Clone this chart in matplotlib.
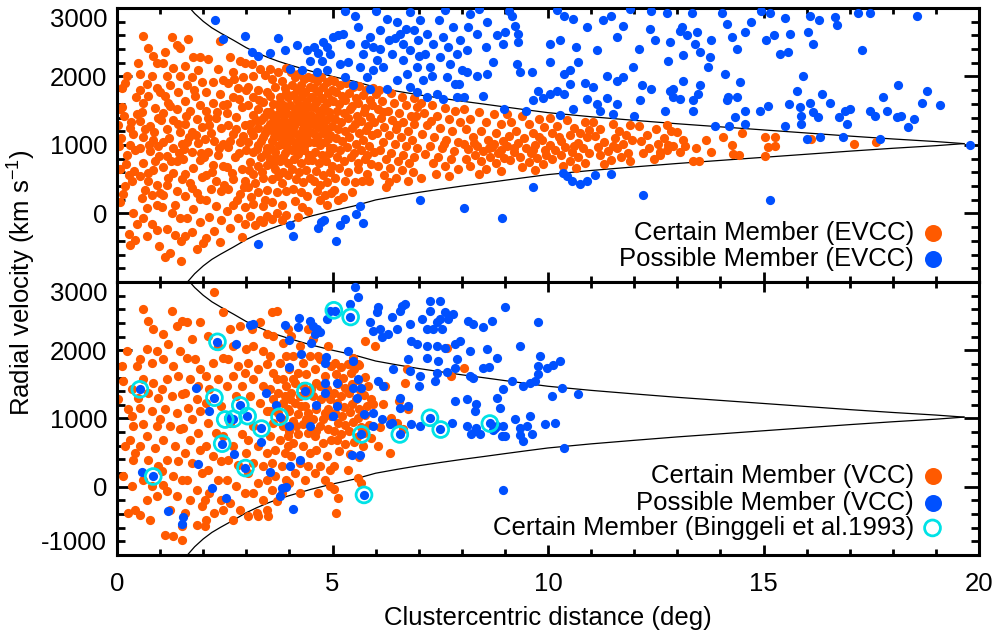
import matplotlib
matplotlib.use("Agg")
import matplotlib.pyplot as plt
from matplotlib.ticker import MultipleLocator

plt.rcParams["font.family"] = ["Liberation Sans", "DejaVu Sans"]
plt.rcParams["mathtext.fontset"] = "custom"
plt.rcParams["mathtext.rm"] = "Liberation Sans"
plt.rcParams["mathtext.it"] = "Liberation Sans:italic"

ORANGE = "#ff5a00"
BLUE = "#0050ff"
CYAN = "#00e2e6"
FS = 18.5

# caustic envelope: half-width (km/s) around the mean cluster velocity vs. radius (deg)
v_mean = 1020
caustic_r = [1.55, 1.65, 1.8, 2.0, 2.2, 2.4, 2.7, 3.0, 3.25, 3.5, 3.75, 4.0, 4.5, 5.0, 5.5,
             6.0, 6.5, 7.0, 7.5, 8.0, 8.5, 9.0, 9.5, 10.0, 11.0, 12.0, 13.0, 14.0, 15.0,
             16.0, 17.0, 18.0, 19.0, 19.65]
caustic_dv = [2110, 2008, 1900, 1785, 1690, 1615, 1510, 1400, 1325, 1258, 1200, 1150, 1058,
              980, 910, 822, 765, 712, 665, 620, 578, 535, 493, 452, 392, 340, 290, 245, 200,
              155, 110, 68, 30, 0]

# EVCC certain members (r [deg], v [km/s])
evcc_certain = [
    (0.02,1290),(0.11,1830),(0.19,1900),(0.23,2010),(0.12,1560),(0.16,1420),(0.31,1250),(0.36,1160),
    (0.09,1100),(0.29,1000),(0.41,930),(0.24,850),(0.08,650),(0.35,480),(0.19,400),(0.07,170),
    (0.36,10),(0.28,-300),(0.42,-380),(0.31,-460),(0.46,-150),(0.44,1700),(0.39,620),(0.14,290),
    (0.05,980),(0.47,1450),(0.21,720),(0.33,1330),(0.06,1520),(0.48,2200),(0.27,560),
    (0.61,2590),(0.73,2410),(0.84,2300),(0.92,2190),(0.80,2010),(0.53,2030),(0.69,1890),(0.92,1830),
    (0.53,1810),(0.73,1720),(1.0,1770),(0.61,1610),(0.88,1540),(0.53,1350),(0.77,1280),(0.96,1400),
    (0.61,1120),(0.84,1080),(0.53,960),(0.77,910),(0.98,840),(0.61,730),(0.84,640),(0.53,540),
    (0.73,480),(0.92,410),(0.57,220),(0.80,270),(0.69,80),(0.92,120),(0.61,-60),(0.80,-150),
    (0.92,-240),(0.69,-330),(0.97,-470),(0.66,1230),(0.86,1190),(0.58,1480),(0.75,1000),(0.95,980),
    (0.71,590),(0.88,760),(0.64,350),(0.99,300),
    (1.27,2570),(1.11,2360),(1.38,2460),(1.46,2410),(1.07,2190),(1.30,2120),(1.15,2000),(1.46,2000),
    (1.23,1870),(1.11,1720),(1.42,1770),(1.19,1620),(1.38,1520),(1.07,1470),(1.30,1360),(1.15,1240),
    (1.46,1190),(1.07,1050),(1.30,960),(1.50,1010),(1.15,840),(1.38,760),(1.07,680),(1.30,590),
    (1.50,500),(1.15,420),(1.38,330),(1.07,270),(1.27,0),(1.46,-70),(1.15,-230),(1.34,-320),
    (1.49,-400),(1.23,-570),(1.48,-700),(1.11,-640),(1.21,1100),(1.41,1300),(1.03,1360),(1.26,770),
    (1.44,880),(1.18,520),(1.34,130),(1.05,90),(1.22,1570),
    (1.65,2540),(1.77,2280),(1.92,2280),(1.58,2150),(1.88,2100),(1.73,1990),(1.62,1870),(1.96,1920),
    (1.81,1720),(1.58,1640),(1.92,1590),(1.70,1500),(1.85,1380),(1.58,1300),(1.96,1260),(1.73,1190),
    (1.62,1050),(1.88,1030),(1.73,900),(1.54,800),(1.92,780),(1.77,660),(1.58,570),(1.96,530),
    (1.73,370),(1.58,260),(1.92,210),(1.77,60),(1.62,-60),(1.92,-130),(1.73,-270),(1.99,-430),
    (1.58,-330),(1.85,-520),(1.67,1120),(1.83,1150),(1.55,940),(1.95,890),(1.69,450),(1.86,300),
    (1.60,1420),(1.79,1810),
    (2.10,2250),(2.34,2110),(2.22,1920),(2.45,1950),(2.06,1770),(2.38,1740),(2.22,1620),(2.45,1580),
    (2.06,1500),(2.30,1390),(2.14,1290),(2.42,1250),(2.03,1090),(2.26,1060),(2.45,1020),(2.10,900),
    (2.34,860),(2.22,710),(2.45,690),(2.06,560),(2.30,480),(2.18,360),(2.42,330),(2.06,200),
    (2.30,110),(2.14,-50),(2.42,-100),(2.26,-260),(2.06,-360),(2.38,-410),(2.39,2520),(2.17,1180),
    (2.36,960),(2.02,820),(2.49,420),(2.20,600),(2.33,1480),(2.12,1400),
    (2.62,2280),(2.86,2220),(2.98,2200),(2.69,2060),(2.92,1990),(2.58,1900),(2.81,1830),(2.99,1800),
    (2.69,1700),(2.54,1600),(2.89,1550),(2.77,1410),(2.58,1290),(2.96,1290),(2.69,1160),(2.86,1050),
    (2.58,970),(2.99,920),(2.73,820),(2.54,680),(2.89,650),(2.69,500),(2.98,480),(2.58,360),
    (2.86,290),(2.69,130),(2.97,90),(2.54,40),(2.81,-60),(2.62,-210),(2.96,-160),(2.89,-340),
    (2.75,1230),(2.93,1130),(2.63,1060),(2.84,880),(2.67,590),(2.94,390),(2.78,200),(2.56,1460),
    (2.83,1670),(2.71,1960),
    (3.12,2180),(3.31,2110),(3.16,2000),(3.43,2020),(3.04,1850),(3.27,1800),(3.47,1780),(3.16,1700),
    (3.39,1630),(3.04,1580),(3.27,1530),(3.47,1480),(3.16,1440),(3.35,1360),(3.08,1300),(3.27,1250),
    (3.47,1250),(3.16,1140),(3.39,1120),(3.04,1040),(3.27,1000),(3.47,960),(3.16,900),(3.35,830),
    (3.08,750),(3.27,690),(3.47,710),(3.16,570),(3.39,520),(3.04,380),(3.27,310),(3.47,340),
    (3.16,140),(3.39,110),(3.08,-30),(3.31,-90),(3.47,-40),(3.20,-170),(3.39,-130),(3.22,1370),
    (3.43,1180),(3.11,1200),(3.33,1060),(3.24,940),(3.45,880),(3.06,640),(3.37,600),(3.21,450),
    (3.10,240),(3.44,200),(3.29,1650),(3.41,1410),
    (3.55,2110),(3.74,2060),(3.93,2130),(3.59,1960),(3.82,1940),(3.66,1850),(3.89,1830),(3.55,1720),
    (3.78,1700),(3.97,1700),(3.62,1600),(3.85,1580),(3.55,1480),(3.74,1450),(3.93,1480),(3.66,1380),
    (3.85,1350),(3.55,1310),(3.78,1280),(3.97,1310),(3.62,1210),(3.85,1190),(3.74,1130),(3.93,1110),
    (3.59,1060),(3.82,1010),(3.66,900),(3.89,880),(3.55,790),(3.78,760),(3.97,740),(3.66,650),
    (3.85,600),(3.59,500),(3.82,450),(3.70,310),(3.93,330),(3.59,170),(3.82,120),(3.70,10),
    (3.93,-20),(3.59,-80),(3.82,-100),(3.68,1340),(3.88,1420),(3.61,1410),(3.79,1540),(3.71,1250),
    (3.95,1230),(3.64,1110),(3.87,1080),(3.76,1000),(3.57,960),(3.94,970),(3.69,810),(3.86,820),
    (3.63,720),(3.96,560),(3.73,550),(3.77,1630),(3.91,1760),
    (4.03,2060),(4.12,1990),(4.21,2030),(4.33,1960),(4.42,1990),(4.06,1880),(4.17,1810),(4.26,1870),
    (4.37,1770),(4.47,1850),(4.09,1730),(4.18,1650),(4.29,1710),(4.38,1630),(4.49,1700),(4.02,1590),
    (4.13,1520),(4.23,1580),(4.31,1490),(4.44,1560),(4.07,1440),(4.15,1400),(4.27,1470),(4.36,1370),
    (4.46,1430),(4.01,1340),(4.11,1280),(4.22,1350),(4.32,1250),(4.41,1320),(4.08,1210),(4.19,1150),
    (4.28,1200),(4.39,1120),(4.48,1190),(4.04,1070),(4.14,1030),(4.24,1080),(4.34,990),(4.45,1050),
    (4.07,930),(4.21,870),(4.33,920),(4.46,860),(4.11,790),(4.27,730),(4.42,780),(4.05,650),
    (4.23,600),(4.38,640),(4.16,500),(4.31,460),(4.47,520),(4.09,360),(4.26,310),(4.41,250),
    (4.13,180),(4.29,100),(4.44,30),(4.19,-50),(4.25,1420),(4.35,1540),(4.12,1360),(4.40,1270),
    (4.18,960),(4.30,1100),(4.43,1380),(4.06,1180),
    (4.52,1980),(4.63,1940),(4.74,1990),(4.86,1920),(4.96,1950),(4.56,1830),(4.67,1780),(4.78,1840),
    (4.89,1760),(4.99,1800),(4.53,1700),(4.64,1640),(4.76,1690),(4.87,1610),(4.97,1660),(4.58,1560),
    (4.69,1500),(4.80,1550),(4.92,1480),(4.51,1440),(4.62,1390),(4.73,1450),(4.84,1360),(4.95,1410),
    (4.55,1310),(4.66,1260),(4.77,1320),(4.88,1230),(4.99,1280),(4.54,1180),(4.65,1130),(4.79,1170),
    (4.90,1090),(4.57,1040),(4.71,1000),(4.83,1050),(4.94,960),(4.60,900),(4.75,860),(4.91,890),
    (4.53,780),(4.68,730),(4.85,770),(4.98,700),(4.61,620),(4.79,560),(4.93,600),(4.56,480),
    (4.72,420),(4.88,460),(4.64,330),(4.82,270),(4.97,300),(4.70,190),(4.86,120),(4.59,1600),
    (4.70,1350),(4.82,1200),(4.95,1150),(4.67,1080),
    (5.04,1930),(5.18,1880),(5.31,1910),(5.47,1850),(5.62,1860),(5.78,1800),(5.93,1830),(5.08,1780),
    (5.23,1720),(5.39,1760),(5.55,1690),(5.71,1730),(5.86,1660),(5.02,1640),(5.16,1600),(5.29,1650),
    (5.44,1570),(5.60,1610),(5.75,1540),(5.91,1590),(5.11,1500),(5.26,1460),(5.41,1520),(5.57,1430),
    (5.73,1480),(5.88,1410),(5.05,1380),(5.20,1340),(5.35,1390),(5.51,1300),(5.66,1350),(5.82,1280),
    (5.97,1330),(5.13,1240),(5.28,1200),(5.45,1250),(5.61,1170),(5.77,1220),(5.92,1150),(5.07,1100),
    (5.22,1060),(5.38,1110),(5.54,1020),(5.70,1070),(5.85,990),(5.01,960),(5.17,920),(5.33,970),
    (5.49,880),(5.65,930),(5.81,860),(5.96,900),(5.10,820),(5.27,770),(5.43,830),(5.59,740),
    (5.76,790),(5.90,720),(5.14,660),(5.36,610),(5.58,650),(5.80,580),(5.06,520),(5.30,470),
    (5.52,460),(5.68,480),(5.03,350),(5.24,240),(5.12,190),(5.46,310),(5.85,470),(6.00,1740),
    (6.08,1810),(6.35,1760),(6.62,1700),(6.90,1680),(6.15,1640),(6.42,1610),(6.70,1580),(6.95,1550),
    (6.05,1520),(6.28,1490),(6.55,1460),(6.81,1430),(6.12,1390),(6.38,1360),(6.64,1330),(6.88,1300),
    (6.20,1260),(6.47,1230),(6.74,1200),(6.03,1170),(6.30,1140),(6.58,1110),(6.85,1080),(6.17,1050),
    (6.44,1010),(6.71,980),(6.96,950),(6.10,920),(6.36,890),(6.63,860),(6.90,830),(6.24,790),
    (6.52,760),(6.78,730),(6.06,700),(6.33,660),(6.60,630),(6.87,600),(6.20,560),(6.48,520),
    (6.30,460),(6.75,470),(6.25,380),(6.50,1290),(6.93,1420),(6.16,1480),
    (7.05,1620),(7.30,1580),(7.60,1540),(7.85,1500),(7.12,1460),(7.42,1420),(7.70,1380),(7.95,1340),
    (7.20,1290),(7.50,1250),(7.78,1210),(7.08,1160),(7.36,1120),(7.64,1080),(7.92,1040),(7.25,990),
    (7.55,950),(7.82,910),(7.15,870),(7.45,830),(7.74,790),(7.32,740),(7.62,700),(7.90,650),
    (7.40,580),(7.70,540),(7.05,520),(7.28,1350),(7.58,1020),
    (8.05,1520),(8.40,1480),(8.75,1450),(8.20,1380),(8.55,1340),(8.90,1300),(8.10,1240),(8.45,1200),
    (8.80,1170),(8.25,1110),(8.60,1080),(8.95,1060),(8.05,1020),(8.35,990),(8.70,970),(8.15,940),
    (8.50,910),(8.85,890),(8.30,860),(8.65,830),(8.98,810),(8.10,790),(8.45,760),(8.80,740),
    (8.20,690),(8.55,650),(8.90,620),(8.40,580),(8.75,1010),(8.28,1030),(8.62,950),(8.92,930),
    (9.05,1450),(9.40,1420),(9.80,1380),(9.15,1330),(9.55,1300),(9.90,1260),(9.25,1210),(9.65,1180),
    (9.10,1130),(9.45,1100),(9.85,1070),(9.30,1030),(9.70,1000),(9.05,980),(9.50,950),(9.92,930),
    (9.20,900),(9.60,880),(9.95,860),(9.35,830),(9.75,810),(9.12,780),(9.55,750),(9.88,720),
    (9.40,680),(9.70,640),(9.22,960),(9.65,920),(9.80,1120),
    (10.05,1390),(10.45,1360),(10.85,1340),(10.20,1280),(10.60,1250),(10.95,1220),(10.10,1170),
    (10.50,1140),(10.90,1110),(10.30,1060),(10.70,1030),(10.05,1000),(10.40,970),(10.80,950),
    (10.15,920),(10.55,900),(10.95,880),(10.30,850),(10.70,820),(10.10,790),(10.50,760),(10.85,730),
    (10.35,700),(10.65,660),(10.25,1120),(10.75,1180),(10.60,990),
    (11.05,1340),(11.50,1310),(11.90,1290),(11.20,1230),(11.65,1200),(11.10,1130),(11.55,1100),
    (11.95,1080),(11.30,1040),(11.75,1010),(11.15,970),(11.60,950),(11.40,910),(11.85,890),
    (11.20,860),(11.70,830),(11.45,780),(11.90,760),(11.30,720),(11.80,1150),(11.50,990),
    (12.10,1280),(12.50,1240),(12.85,1200),(12.30,1150),(12.70,1100),(12.15,1060),(12.55,1020),
    (12.90,990),(12.35,950),(12.75,920),(12.20,880),(12.60,850),(12.45,800),(12.75,1290),
    (12.99,1190),(12.79,1000),(12.60,900),(13.14,1070),(13.18,980),(13.07,900),
    (13.43,950),(13.67,1070),(13.78,900),(13.37,760),(13.51,760),(14.07,1110),(14.26,1000),
    (14.30,870),(14.42,860),(14.49,1170),(15.03,1120),(15.11,970),(15.27,990),(15.27,1120),
    (15.03,840),(16.11,1090),(17.10,1010),(17.62,1050),
]

# EVCC possible members
evcc_possible = [
    (2.27,2820),(2.47,2540),(2.97,2590),(3.12,2360),(3.28,2300),(3.55,2340),(3.74,2560),(3.90,2390),
    (4.17,2460),(4.01,2110),(4.28,2090),(4.40,2380),(4.56,2430),(4.67,2350),(4.79,2500),(4.86,2430),
    (5.02,2570),(5.13,2600),(5.25,2620),(5.40,2480),(5.60,2720),(5.52,2890),(4.48,2230),(4.63,2060),
    (4.86,2090),(5.17,2185),(5.37,2210),(5.29,1990),(5.48,1870),(4.94,2330),(4.75,2230),
    (5.71,2331),(5.87,2575),(5.95,2429),(6.03,2234),(6.10,2672),(6.18,2136),(6.26,2842),(6.30,2526),
    (6.37,2331),(6.49,2793),(6.57,2623),(6.64,2477),(6.64,2234),(6.72,2039),(6.80,2380),(6.80,1844),
    (6.88,2672),(6.95,2136),(6.99,2526),(7.03,2818),(7.11,1942),(7.15,2331),(7.18,2623),(7.26,2136),
    (7.34,2477),(7.42,1747),(7.46,2818),(7.49,2282),(7.57,2575),(7.65,1990),(7.69,2429),(7.73,2185),
    (7.80,2721),(7.84,1893),(7.88,2331),(7.96,2526),(8.00,2088),(8.04,1698),(8.11,2380),(8.15,2721),
    (5.87,1820),(6.26,1820),(5.95,2088),(6.49,1942),(6.95,1771),(7.18,1698),(7.57,1674),(7.88,1698),
    (5.64,2136),(5.79,1990),(5.76,2480),(6.10,2400),(6.45,2560),(6.70,2700),(7.00,2300),(7.30,2000),
    (5.30,2950),(6.00,2960),(6.80,2940),(7.60,2970),(8.40,2980),(9.10,2950),(10.20,2970),
    (11.90,2980),(12.40,2960),
    (8.19,2910),(8.58,2790),(8.35,2620),(8.55,2430),(8.81,2600),(9.00,2650),(9.16,2890),(9.24,2740),
    (9.31,2620),(8.96,2480),(8.73,2210),(8.58,2040),(8.35,2010),(8.12,2060),(7.93,1890),(8.50,1720),
    (8.97,1530),(9.50,1500),(9.65,1650),(9.77,1790),(10.04,2210),(10.04,2480),(10.28,2530),
    (10.36,2890),(10.59,2840),(10.90,2720),(11.28,2820),(11.47,2890),(11.74,2740),(11.59,2570),
    (11.13,2380),(10.66,2430),(10.51,2090),(10.70,2210),(10.36,2040),(10.20,1790),(10.04,1740),
    (9.89,1690),(10.36,1740),(10.51,1890),(10.86,1910),(11.05,1840),(10.90,1670),(11.13,1600),
    (11.36,1690),(11.59,1600),(11.74,1990),(11.98,2140),(12.17,1870),(12.13,1650),(12.40,1820),
    (12.48,2530),(12.36,2700),(12.10,2400),(11.59,1940),(11.36,2010),(9.62,2060),(9.35,2060),
    (9.27,2180),(9.31,2500),(10.28,1445),(10.59,1530),(11.2,1500),(11.5,1450),(12.0,1420),
    (12.75,2920),(13.06,2670),(13.10,2720),(13.33,2920),(12.83,2500),(12.79,2230),(13.14,2310),
    (13.22,2600),(13.45,2650),(13.41,2480),(13.52,2360),(13.76,2280),(13.72,2140),(13.79,2530),
    (14.03,2920),(14.15,2770),(14.26,2570),(14.11,2040),(14.38,2400),(14.46,1920),(14.57,2650),
    (14.70,2800),(14.94,2960),(15.14,2920),(15.06,2530),(15.25,2600),(15.37,2330),(15.49,2860),
    (15.57,2360),(15.61,2620),(16.07,2890),(16.29,2820),(16.15,2480),(16.04,2650),(15.92,2010),
    (15.77,1790),(15.60,1600),(16.07,1620),(16.35,1750),(16.54,1620),(16.70,2750),(16.66,2870),
    (17.20,2920),(17.47,2920),(17.28,2390),(16.90,1500),(17.00,1520),(16.93,1310),(16.76,1410),
    (17.47,1500),(17.59,1430),(17.78,1700),(17.86,1500),(18.09,1410),(18.20,1430),(18.36,1260),
    (18.48,1380),(18.12,1870),(18.67,1620),(18.79,1790),(19.10,1590),(18.56,2890),(17.70,1090),
    (16.31,1110),(16.84,1120),(19.79,1003),(14.92,1500),(15.11,1570),(14.57,1500),(14.38,1700),
    (14.15,1650),(13.88,1280),(14.20,1270),(14.34,1410),(14.57,1310),(14.18,1700),(13.37,1650),
    (13.37,1500),(13.06,1670),(12.91,1700),(12.83,1790),(12.72,1500),(13.52,1870),(13.48,1750),
    (13.14,1940),(12.91,1820),(15.84,1550),(15.88,1430),(16.15,1480),(16.26,1410),(15.88,1310),
    (15.49,1280),(16.00,1090),
    (3.28,-440),(4.01,-165),(4.09,-330),(4.67,-210),(4.73,-130),(4.80,-100),(5.07,-400),(5.17,-165),
    (5.30,-85),(5.55,-10),(5.64,105),(5.71,-135),(7.03,200),(8.04,80),(8.93,-60),(9.66,385),
    (10.35,590),(10.55,480),(10.75,430),(10.45,540),(10.90,470),(11.10,560),(11.45,570),(12.21,270),
    (15.15,190),
]

# VCC certain members
vcc_certain = [
    (0.03,1280),(0.22,1990),(0.11,1770),(0.15,1550),(0.26,1133),(0.34,1035),(0.38,888),(0.30,692),
    (0.41,496),(0.38,398),(0.15,153),(0.34,6),(0.26,-386),(0.41,-337),(0.53,-410),(0.46,1770),
    (0.34,1427),(0.49,1305),(0.19,594),
    (0.61,2603),(0.73,2432),(0.84,2309),(0.69,2015),(0.92,1990),(0.53,1868),(0.80,1819),(0.61,1574),
    (0.84,1525),(0.73,1378),(0.96,1305),(0.53,1158),(0.80,1109),(0.61,912),(0.92,888),(0.69,741),
    (0.53,594),(0.88,570),(0.73,398),(0.96,300),(0.61,104),(0.80,6),(0.92,-141),(0.69,-190),
    (1.11,-704),(0.77,-484),
    (1.27,2578),(1.07,2235),(1.38,2358),(1.50,2432),(1.19,2088),(1.46,1990),(1.07,1868),(1.30,1770),
    (1.15,1574),(1.42,1623),(1.04,1427),(1.27,1329),(1.50,1354),(1.11,1133),(1.38,1084),(1.00,986),
    (1.23,888),(1.46,839),(1.07,692),(1.34,594),(1.15,398),(1.42,374),(1.04,227),(1.30,153),
    (1.50,104),(1.15,-68),(1.38,-141),(1.23,-337),(1.50,-582),(1.30,-729),(1.50,-778),(1.07,30),
    (1.62,1893),(1.81,1868),(1.92,1721),(1.70,1574),(1.88,1476),(1.58,1378),(1.85,1280),(1.65,1158),
    (1.92,1109),(1.73,986),(1.54,863),(1.88,790),(1.70,692),(1.58,496),(1.92,545),(1.73,349),
    (1.96,202),(1.62,104),(1.85,-43),(1.70,-190),(1.96,-288),(1.58,-386),(1.85,-558),(1.73,2162),
    (1.92,2407),(2.04,-582),(1.62,2407),
    (2.24,2858),(2.45,2554),(2.10,2211),(2.34,2064),(2.22,1819),(2.45,1893),(2.06,1623),(2.34,1574),
    (2.14,1427),(2.06,1231),(2.42,1182),(2.10,937),(2.30,790),(2.45,741),(2.06,594),(2.22,447),
    (2.42,374),(2.10,251),(2.34,104),(2.14,-92),(2.42,-190),(2.26,-386),(2.06,-484),(2.45,-337),
    (2.03,-190),
    (2.62,2309),(2.86,2358),(3.00,2015),(2.69,2064),(2.58,1868),(2.81,1770),(2.96,1672),(2.69,1623),
    (2.54,1476),(2.89,1476),(2.77,1329),(2.62,937),(2.89,766),(2.69,594),(3.00,496),(2.58,398),
    (2.81,325),(2.54,104),(2.77,6),(2.96,-92),(2.62,-239),(2.86,-337),(2.69,-484),(3.05,-435),
    (3.12,2309),(3.31,2407),(3.47,2235),(3.16,2064),(3.39,1990),(3.04,1819),(3.27,1721),(3.47,1795),
    (3.16,1574),(3.39,1476),(3.08,1329),(3.31,1231),(3.47,1109),(3.16,888),(3.04,692),(3.27,594),
    (3.47,496),(3.16,349),(3.39,300),(3.04,202),(3.27,55),(3.47,104),(3.16,-92),(3.39,-190),
    (3.24,-386),(3.47,-337),(3.27,-435),
    (3.59,2554),(3.70,2578),(3.62,2211),(3.85,2113),(3.97,2309),(3.55,1917),(3.78,1819),(3.93,1917),
    (3.62,1672),(3.85,1574),(3.55,1427),(3.74,1378),(3.93,1476),(3.62,1280),(3.85,1231),(3.55,1109),
    (3.74,1084),(3.97,1133),(3.62,937),(3.85,888),(3.55,741),(3.78,692),(3.97,741),(3.66,545),
    (3.89,496),(3.59,349),(3.82,300),(3.66,153),(3.93,104),(3.59,-43),(3.82,-92),(3.70,-215),
    (3.51,-435),(3.97,594),(3.70,1574),(3.82,986),(3.90,1329),
    (4.04,2211),(4.24,2064),(4.43,2309),(4.08,1917),(4.31,1819),(4.47,1917),(4.00,1721),(4.19,1672),
    (4.38,1648),(4.12,1525),(4.31,1476),(4.04,1378),(4.24,1329),(4.43,1354),(4.12,1231),(4.35,1182),
    (4.00,1109),(4.19,1060),(4.43,1084),(4.08,961),(4.31,912),(4.00,815),(4.19,766),(4.43,790),
    (4.08,643),(4.31,594),(4.47,496),(4.04,447),(4.24,349),(4.43,300),(4.12,202),(4.35,104),
    (4.00,55),(4.24,-92),(4.08,1574),(4.27,1182),(4.16,888),(4.39,986),(4.51,1427),(4.01,1280),
    (4.55,2162),(4.70,1868),(4.89,2064),(4.59,1721),(4.82,1623),(4.97,1770),(4.62,1525),(4.86,1427),
    (4.55,1329),(4.74,1280),(4.93,1280),(4.62,1133),(4.82,1084),(4.97,1035),(4.55,986),(4.70,888),
    (4.89,839),(4.59,741),(4.78,643),(4.97,692),(4.62,545),(4.86,447),(4.70,300),(4.93,251),
    (4.59,202),(4.82,104),(4.67,-92),(4.93,6),(4.70,1476),(4.78,986),(4.62,815),(4.89,1133),
    (4.66,1917),
    (5.05,1820),(5.20,1760),(5.35,1800),(5.50,1720),(5.62,1790),(5.08,1650),(5.25,1600),(5.42,1660),
    (5.58,1560),(5.75,1610),(5.12,1500),(5.30,1450),(5.46,1500),(5.64,1420),(5.82,1470),(5.03,1380),
    (5.20,1330),(5.38,1370),(5.55,1290),(5.72,1340),(5.90,1280),(5.10,1220),(5.27,1170),(5.45,1210),
    (5.62,1140),(5.80,1190),(5.05,1080),(5.22,1040),(5.40,1090),(5.58,1000),(5.76,1050),(5.12,940),
    (5.30,900),(5.48,950),(5.66,870),(5.85,910),(5.03,820),(5.20,770),(5.38,810),(5.56,730),
    (5.74,790),(5.10,680),(5.28,620),(5.50,650),(5.70,590),(5.15,520),(5.40,480),(5.62,430),
    (5.04,300),(5.35,250),(5.58,130),(5.66,60),(5.03,-40),(5.12,-170),(5.08,-390),(5.75,2140),
    (5.98,2060),(5.48,1890),(5.60,1800),(5.95,1210),(5.90,720),
    (6.18,1206),(6.33,496),(6.06,594),(6.49,937),(6.64,839),(6.76,1133),(6.22,1476),(6.68,1525),
    (6.72,1721),(7.65,2040),(7.75,1623),(8.04,1746),(6.35,1000),(6.10,880),(6.55,1260),
]

# VCC possible members
vcc_possible = [
    (0.53,1427),(0.57,212),(0.84,153),(2.33,2123),(2.76,2098),(1.83,1442),(2.14,1109),(2.26,1305),
    (2.58,1011),(2.70,986),(2.86,1192),(3.01,1035),(3.33,854),(3.34,653),(2.72,481),(2.97,275),
    (2.44,631),(1.89,334),(2.20,-19),(2.53,-165),(1.18,-352),(1.52,-445),(1.50,-548),(3.45,1368),
    (3.55,212),(3.69,1202),(3.77,1025),(3.98,888),(3.98,1755),(4.02,300),(3.77,-141),(3.82,-19),
    (3.93,-4),(4.08,-327),(4.24,398),(4.27,1951),(4.00,2152),(4.21,2343),(3.90,2373),(3.15,2383),
    (3.09,2373),(4.22,2471),(4.36,1403),(4.48,888),(4.62,1192),(4.82,1378),(4.82,1819),(4.82,1525),
    (4.85,1907),(4.48,2432),(4.55,2358),(4.63,2309),(4.71,2260),(4.59,2236),(4.51,2113),(4.86,2456),
    (4.94,2578),
    (5.52,2922),(5.60,2775),(5.41,2677),(5.06,2579),(5.41,2480),(6.06,2628),(6.02,2554),(5.87,2407),
    (5.95,2284),(6.10,2309),(6.14,2187),(6.29,2236),(6.37,2480),(6.49,2309),(6.60,2652),(6.68,2677),
    (6.56,2579),(6.79,2383),(6.83,2138),(6.95,2089),(7.07,2456),(7.18,2064),(7.26,2726),(7.26,2579),
    (7.42,2407),(7.50,2456),(7.50,2726),(7.61,2554),(7.68,2456),(7.80,2530),(7.18,2309),(7.34,2309),
    (7.53,2309),(7.42,2064),(7.61,2040),(7.84,2089),(7.96,2138),(6.76,1868),(7.18,1893),(7.45,1843),
    (7.88,1868),(8.19,1990),(8.15,2432),(8.27,2383),(8.50,2334),(8.71,2432),(9.00,2628),(8.58,2015),
    (8.81,1893),(8.50,1745),(8.62,1760),(9.35,2064),(9.77,2407),(9.81,1917),(9.77,1770),(9.77,1648),
    (9.97,1745),(10.12,1780),(10.28,1843),(9.16,1549),(8.96,1427),(9.43,1476),(9.58,1525),
    (9.69,1549),(10.32,1451),(10.09,1329),(10.70,1354),(6.41,1721),(6.79,1696),(7.03,1623),
    (7.00,1476),(7.38,1549),(7.42,1672),(7.66,1680),(7.84,1745),(8.19,1623),(8.27,1600),(7.84,1256),
    (8.11,1280),(8.34,1207),(8.30,1109),(8.81,1305),(8.89,1158),(9.24,986),(9.35,864),(9.58,1035),
    (9.51,888),(9.62,766),(9.93,913),(10.16,927),(9.43,668),(9.35,760),(8.96,888),(9.00,741),
    (8.81,888),(8.73,830),(8.22,766),(8.30,815),(8.34,860),(8.96,-43),(10.36,570),(6.14,986),
    (6.33,913),(6.56,1305),(6.56,1158),(6.76,1182),(6.83,913),(7.03,888),(7.26,1010),(7.50,839),
    (7.77,937),(8.11,888),(8.42,766),(8.65,927),(8.78,860),(8.94,740),(6.56,766),(5.65,766),
    (5.72,-117),(5.64,472),(5.44,472),(5.37,1990),(5.48,1843),(5.10,1525),(5.48,1451),(5.67,1451),
    (6.06,1549),(6.18,1476),(5.60,1574),(5.95,1084),(5.72,1060),(5.56,1305),(5.95,888),(5.10,1182),
    (5.00,1035),(6.37,937),
]

# Binggeli et al. (1993) certain members
binggeli = [
    (0.53,1427),(0.84,150),(2.33,2123),(2.26,1305),(2.86,1192),(2.51,985),(2.70,995),(3.03,1034),
    (3.35,852),(3.77,1025),(2.44,631),(2.98,273),(4.37,1403),(5.03,2585),(5.42,2487),(5.67,766),
    (6.56,766),(7.26,1010),(7.51,838),(8.65,926),(5.73,-120),
]


def split(points):
    return [p[0] for p in points], [p[1] for p in points]


fig = plt.figure(figsize=(9.96, 6.39), dpi=100)
ax_top = fig.add_axes([0.1175, 0.5587, 0.8655, 0.4288])
ax_bot = fig.add_axes([0.1175, 0.1315, 0.8655, 0.4272])

upper = [v_mean + d for d in caustic_dv]
lower = [v_mean - d for d in caustic_dv]

dot = dict(s=44, linewidths=0)

for ax in (ax_top, ax_bot):
    ax.plot(caustic_r, upper, color="black", lw=0.9, zorder=1)
    ax.plot(caustic_r, lower, color="black", lw=0.9, zorder=1)
    ax.set_xlim(0, 20)
    ax.set_ylim(-1000, 3000)
    ax.xaxis.set_major_locator(MultipleLocator(5))
    ax.xaxis.set_minor_locator(MultipleLocator(1))
    ax.yaxis.set_minor_locator(MultipleLocator(200))
    ax.tick_params(axis="both", which="both", direction="in", top=True, right=True,
                   width=2.0, labelsize=FS)
    ax.tick_params(axis="y", which="major", length=11, pad=7)
    ax.tick_params(axis="y", which="minor", length=5.5)
    ax.tick_params(axis="x", which="major", length=7.5, pad=12)
    ax.tick_params(axis="x", which="minor", length=4)
    for sp in ax.spines.values():
        sp.set_linewidth(2.2)

r, v = split(evcc_certain)
ax_top.scatter(r, v, color=ORANGE, zorder=2, **dot)
r, v = split(evcc_possible)
ax_top.scatter(r, v, color=BLUE, zorder=3, **dot)

r, v = split(vcc_certain)
ax_bot.scatter(r, v, color=ORANGE, zorder=2, **dot)
r, v = split(vcc_possible)
ax_bot.scatter(r, v, color=BLUE, zorder=3, **dot)
r, v = split(binggeli)
ax_bot.scatter(r, v, s=130, facecolors="none", edgecolors=CYAN, linewidths=2.0, zorder=4)

yt = [-1000, 0, 1000, 2000, 3000]
ax_top.set_yticks(yt, ["", "0", "1000", "2000", "3000"])
ax_bot.set_yticks(yt, ["-1000", "0", "1000", "2000", "3000"])
ax_top.tick_params(axis="x", labelbottom=False)
ax_top.yaxis.get_major_ticks()[4].label1.set_verticalalignment("top")
ax_bot.yaxis.get_major_ticks()[4].label1.set_verticalalignment("top")
ax_bot.yaxis.get_major_ticks()[0].label1.set_verticalalignment("bottom")

# legend keys, right-aligned text with the symbol after it
def key(ax, y, text, **style):
    ax.text(0.9246, y, text, transform=ax.transAxes, ha="right", va="center", fontsize=FS)
    ax.scatter([0.946], [y], transform=ax.transAxes, clip_on=False, zorder=5, **style)

key(ax_top, 0.179, "Certain Member (EVCC)", s=150, color=ORANGE, linewidths=0)
key(ax_top, 0.084, "Possible Member (EVCC)", s=150, color=BLUE, linewidths=0)
key(ax_bot, 0.290, "Certain Member (VCC)", s=150, color=ORANGE, linewidths=0)
key(ax_bot, 0.191, "Possible Member (VCC)", s=150, color=BLUE, linewidths=0)
key(ax_bot, 0.099, "Certain Member (Binggeli et al.1993)", s=130, facecolors="none",
    edgecolors=CYAN, linewidths=2.0)

fig.text(0.5502, 0.022, "Clustercentric distance (deg)", ha="center", va="baseline", fontsize=FS)
fig.text(0.022, 0.557, "Radial velocity (km s$^{\\mathrm{-1}}$)", rotation=90,
         ha="center", va="center", fontsize=FS)

fig.savefig("out.png", dpi=100)
